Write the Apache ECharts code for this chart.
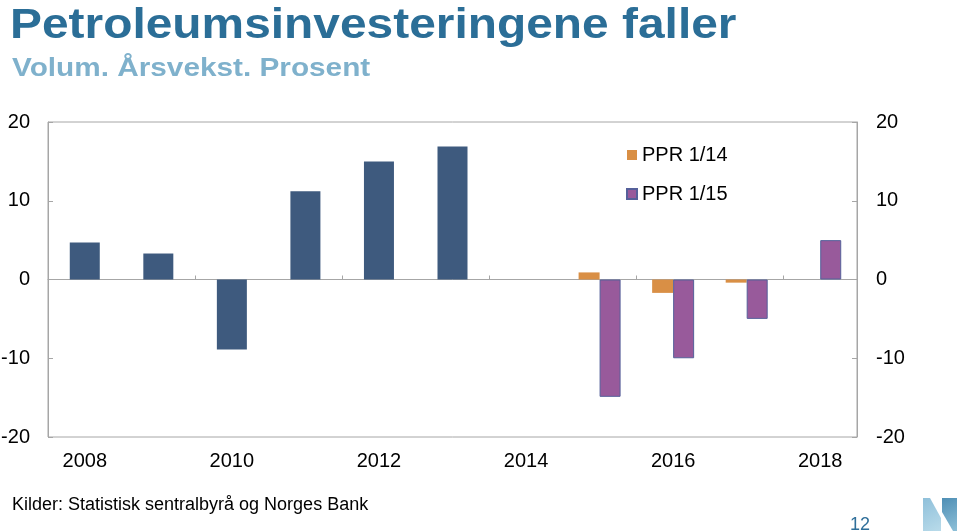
<!DOCTYPE html>
<html>
<head>
<meta charset="utf-8">
<script src="https://cdn.jsdelivr.net/npm/echarts@6/dist/echarts.min.js"></script>
<style>html,body{margin:0;padding:0;background:#fff}#c{width:960px;height:531px}</style>
</head>
<body>
<div id="c"></div>
<script>
var years = ['2008','2009','2010','2011','2012','2013','2014','2015','2016','2017','2018'];
var historical = [4.7, 3.3, -8.9, 11.2, 15.0, 16.9, null, null, null, null, null];
var ppr114 = [null, null, null, null, null, null, null, 0.9, -1.7, -0.4, null];
var ppr115 = [null, null, null, null, null, null, null, -14.9, -10.0, -5.0, 5.0];
var yTicks = [-20, -10, 0, 10, 20];

var FONT = '"Liberation Sans", Arial, sans-serif';
var chart = echarts.init(document.getElementById('c'), null, {renderer: 'canvas'});
chart.setOption({
  animation: false,
  backgroundColor: '#ffffff',
  textStyle: {fontFamily: FONT},
  title: [
    {text: 'Kilder: Statistisk sentralbyrå og Norges Bank', left: 7, top: 491,
     textStyle: {fontFamily: FONT, fontSize: 18, fontWeight: 'normal', color: '#000'}},
    {text: '12', left: 845, top: 511,
     textStyle: {fontFamily: FONT, fontSize: 18, fontWeight: 'normal', color: '#2f6f9a'}}
  ],
  grid: {left: 48, right: 103, top: 122, bottom: 94, show: true, borderColor: '#a6a6a6', borderWidth: 1,
         containLabel: false, outerBoundsMode: 'none'},
  legend: {
    orient: 'vertical', left: 621, top: 140, itemWidth: 10, itemHeight: 10, itemGap: 19,
    icon: 'rect',
    textStyle: {fontFamily: FONT, fontSize: 20, color: '#000'},
    data: ['PPR 1/14', 'PPR 1/15']
  },
  xAxis: [
    {type: 'category', data: years, position: 'bottom',
     axisLine: {show: true, onZero: true, lineStyle: {color: '#a6a6a6', width: 1}},
     axisTick: {show: true, inside: true, length: 4, interval: 1, lineStyle: {color: '#a6a6a6'}},
     axisLabel: {show: false},
     splitLine: {show: false}},
    {type: 'category', data: years, position: 'bottom',
     axisLine: {show: false, onZero: false},
     axisTick: {show: false},
     axisLabel: {show: true, interval: 1, margin: 14, fontSize: 20, color: '#000', fontFamily: FONT},
     splitLine: {show: false}}
  ],
  yAxis: [
    {type: 'value', min: -20, max: 20, interval: 10, position: 'left',
     axisLine: {show: true, lineStyle: {color: '#a6a6a6'}},
     axisTick: {show: true, inside: true, length: 5, lineStyle: {color: '#a6a6a6'}},
     axisLabel: {margin: 18, fontSize: 20, color: '#000', fontFamily: FONT,
       formatter: function(v){ return yTicks.indexOf(v) >= 0 ? String(v) : ''; }},
     splitLine: {show: false}},
    {type: 'value', min: -20, max: 20, interval: 10, position: 'right',
     axisLine: {show: true, onZero: false, lineStyle: {color: '#a6a6a6'}},
     axisTick: {show: true, inside: true, length: 5, lineStyle: {color: '#a6a6a6'}},
     axisLabel: {margin: 19, fontSize: 20, color: '#000', fontFamily: FONT,
       formatter: function(v){ return yTicks.indexOf(v) >= 0 ? String(v) : ''; }},
     splitLine: {show: false}}
  ],
  series: [
    {name: 'Historisk', type: 'bar', xAxisIndex: 1, yAxisIndex: 0, data: historical, barWidth: 30,
     itemStyle: {color: '#3e5a7e'}},
    {name: 'PPR 1/14', type: 'bar', xAxisIndex: 0, yAxisIndex: 0, data: ppr114, barWidth: 21, barGap: '0%',
     itemStyle: {color: '#d98f45'}},
    {name: 'PPR 1/15', type: 'bar', xAxisIndex: 0, yAxisIndex: 0, data: ppr115, barWidth: 21, barGap: '0%',
     itemStyle: {color: '#985a9b', borderColor: '#55609a', borderWidth: 1}}
  ],
  graphic: [
    {type: 'text', x: 10, y: 26, scaleX: 1.14, scaleY: 1,
     style: {text: 'Petroleumsinvesteringene faller', x: 0, y: 0, fontFamily: FONT, fontSize: 42, fontWeight: 'bold',
             fill: '#2b6e97', align: 'left', verticalAlign: 'middle'}},
    {type: 'text', x: 12, y: 69.5, scaleX: 1.19, scaleY: 1,
     style: {text: 'Volum. Årsvekst. Prosent', x: 0, y: 0, fontFamily: FONT, fontSize: 25, fontWeight: 'bold',
             fill: '#7fb1cc', align: 'left', verticalAlign: 'middle'}},
    {type: 'polygon', shape: {points: [[923,498],[930,498],[941,518],[941,531],[923,531]]},
     style: {fill: new echarts.graphic.LinearGradient(0,0,1,1,[{offset:0,color:'#8fc0da'},{offset:1,color:'#b9dbea'}])}},
    {type: 'polygon', shape: {points: [[942,498],[957,498],[957,531],[953,531],[942,512]]},
     style: {fill: new echarts.graphic.LinearGradient(0,0,1,1,[{offset:0,color:'#4f8fb5'},{offset:1,color:'#8ec0d8'}])}}
  ]
});
</script>
</body>
</html>
